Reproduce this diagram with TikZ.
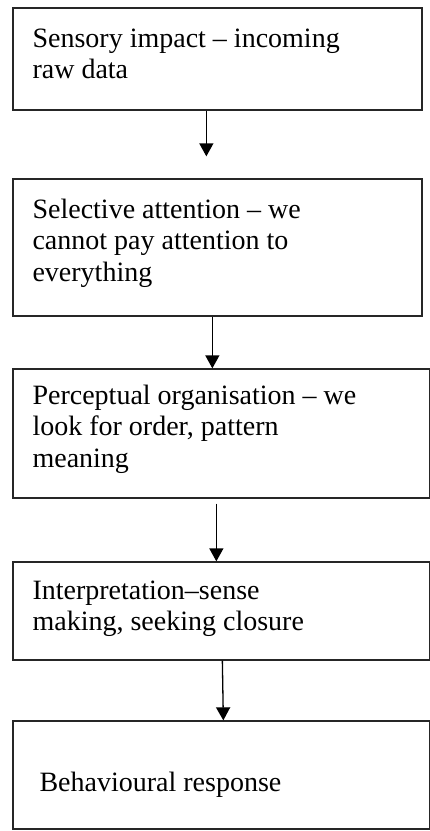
\documentclass[tikz,border=0pt]{standalone}
\usepackage{fontspec}
\setmainfont{Liberation Serif}
\usetikzlibrary{arrows.meta}

\begin{document}
\begin{tikzpicture}[x=1pt, y=-1pt, every node/.style={font=\fontsize{28}{31.5}\selectfont}, >={Triangle[length=13pt,width=14pt]}, bx/.style={draw=black!85, line width=1.3pt, rectangle, inner sep=0pt}, lbl/.style={anchor=base west, align=left, inner sep=0pt}, flow/.style={->, line width=1.3pt}]
	\useasboundingbox (0,0) rectangle (430,831);
	\node[bx, minimum width=409pt, minimum height=102pt] (s1) at (217.5,59) {};
	\node[bx, minimum width=409pt, minimum height=137pt] (s2) at (217.5,247.5) {};
	\node[bx, minimum width=417pt, minimum height=129pt] (s3) at (221.5,433.5) {};
	\node[bx, minimum width=417pt, minimum height=98pt] (s4) at (221.5,611) {};
	\node[bx, minimum width=417pt, minimum height=108pt] (s5) at (221.5,775) {};
	% base anchor sits on the last line
	\node[lbl] (t1) at ([xshift=20pt, yshift=-71.5pt]s1.north west) {Sensory impact -- incoming\\raw data};
	\node[lbl] (t2) at ([xshift=20pt, yshift=-103pt]s2.north west) {Selective attention -- we\\cannot pay attention to\\everything};
	\node[lbl] (t3) at ([xshift=20pt, yshift=-99pt]s3.north west) {Perceptual organisation -- we\\look for order, pattern\\meaning};
	\node[lbl] (t4) at ([xshift=20pt, yshift=-69.5pt]s4.north west) {Interpretation--sense\\making, seeking closure};
	\node[lbl] (t5) at ([xshift=27pt, yshift=-71pt]s5.north west) {Behavioural response};
	\draw[flow, shorten >=22pt] ([xshift=194pt]s1.south west) -- ([xshift=194pt]s2.north west);
	\draw[flow] ([xshift=200pt]s2.south west) -- ([xshift=200pt]s3.north west);
	\draw[flow, shorten <=5pt] ([xshift=204pt]s3.south west) -- ([xshift=204pt]s4.north west);
	\draw[flow] ([xshift=210pt]s4.south west) -- ([xshift=211pt]s5.north west);
\end{tikzpicture}
\end{document}
